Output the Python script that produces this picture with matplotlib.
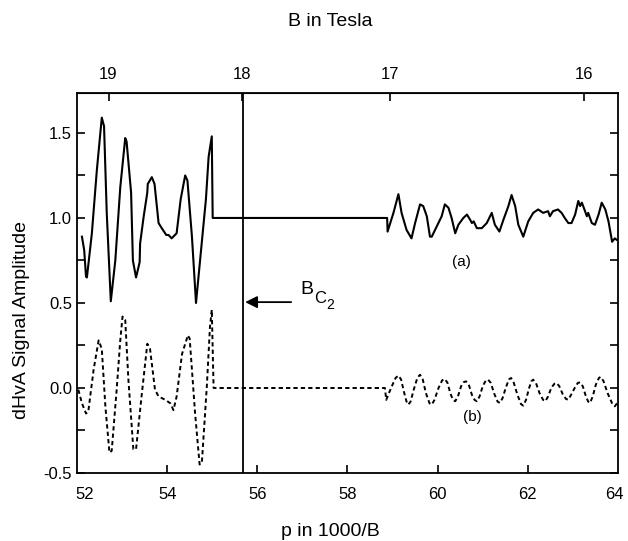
import matplotlib.pyplot as plt
import matplotlib.transforms as mtransforms
import numpy as np

plt.rcParams['font.family'] = ['Liberation Sans', 'DejaVu Sans']

# curve (a): measured signal, offset by 1.0
xa = [52.11, 52.16, 52.20, 52.22, 52.33, 52.44, 52.55, 52.60, 52.66, 52.75,
      52.85, 52.96, 53.07, 53.10, 53.20, 53.24, 53.31, 53.39, 53.40, 53.48,
      53.56, 53.57, 53.66, 53.72, 53.81, 53.88, 53.98, 54.03, 54.10, 54.21,
      54.30, 54.40, 54.45, 54.55, 54.64, 54.73, 54.86, 54.92, 54.99, 55.01,
      58.88, 58.89, 59.02, 59.13, 59.20, 59.31, 59.42, 59.50, 59.61, 59.68,
      59.76, 59.83, 59.87, 59.98, 60.09, 60.16, 60.24, 60.31, 60.39, 60.46,
      60.57, 60.65, 60.72, 60.76, 60.80, 60.87, 60.98, 61.09, 61.20, 61.27,
      61.37, 61.46, 61.57, 61.64, 61.72, 61.79, 61.90, 62.01, 62.12, 62.23,
      62.34, 62.45, 62.49, 62.56, 62.67, 62.75, 62.82, 62.90, 62.97, 63.05,
      63.12, 63.16, 63.20, 63.27, 63.31, 63.34, 63.42, 63.49, 63.57, 63.64,
      63.72, 63.79, 63.87, 63.93, 63.98]
ya = [0.89, 0.81, 0.655, 0.65, 0.91, 1.28, 1.59, 1.54, 1.03, 0.51,
      0.75, 1.18, 1.47, 1.45, 1.15, 0.75, 0.65, 0.74, 0.85, 1.01,
      1.15, 1.20, 1.24, 1.20, 0.97, 0.94, 0.90, 0.90, 0.88, 0.91,
      1.11, 1.25, 1.22, 0.89, 0.50, 0.75, 1.11, 1.36, 1.48, 1.00,
      1.00, 0.92, 1.03, 1.14, 1.03, 0.93, 0.88, 0.97, 1.08, 1.07,
      1.01, 0.89, 0.89, 0.95, 1.01, 1.08, 1.06, 1.00, 0.91, 0.96,
      1.00, 1.02, 0.99, 0.97, 0.98, 0.94, 0.94, 0.97, 1.03, 0.96,
      0.92, 0.99, 1.07, 1.135, 1.07, 0.96, 0.89, 0.98, 1.03, 1.05,
      1.03, 1.04, 1.01, 1.04, 1.05, 1.03, 1.00, 0.97, 0.97, 1.02,
      1.10, 1.07, 1.09, 1.04, 1.01, 1.03, 0.97, 0.96, 1.02, 1.09,
      1.05, 0.98, 0.86, 0.88, 0.87]

# curve (b): fitted signal
xb = [52.03, 52.11, 52.20, 52.25, 52.37, 52.48, 52.55, 52.63, 52.72, 52.77,
      52.88, 52.96, 53.01, 53.07, 53.14, 53.25, 53.31, 53.44, 53.56, 53.62,
      53.73, 53.81, 53.96, 54.07, 54.14, 54.21, 54.33, 54.46, 54.50, 54.62,
      54.72, 54.77, 54.88, 54.95, 54.99, 55.03,
      58.83, 58.86, 58.92, 59.00, 59.07, 59.13, 59.19, 59.25, 59.31, 59.35,
      59.40, 59.47, 59.55, 59.61, 59.67, 59.74, 59.82, 59.87, 59.93, 60.02,
      60.10, 60.16, 60.22, 60.28, 60.34, 60.39, 60.45, 60.52, 60.58, 60.63,
      60.69, 60.76, 60.82, 60.87, 60.93, 61.00, 61.07, 61.12, 61.18, 61.25,
      61.33, 61.38, 61.44, 61.51, 61.58, 61.63, 61.69, 61.77, 61.85, 61.90,
      61.96, 62.03, 62.08, 62.12, 62.18, 62.26, 62.34, 62.39, 62.45, 62.52,
      62.59, 62.64, 62.70, 62.78, 62.85, 62.90, 62.96, 63.04, 63.11, 63.16,
      63.22, 63.29, 63.34, 63.38, 63.44, 63.51, 63.58, 63.62, 63.68, 63.77,
      63.87, 63.93, 63.98]
yb = [-0.01, -0.09, -0.15, -0.14, 0.11, 0.28, 0.23, -0.11, -0.38, -0.37,
      -0.01, 0.28, 0.42, 0.40, 0.05, -0.36, -0.36, -0.03, 0.26, 0.23,
      -0.01, -0.05, -0.07, -0.09, -0.13, -0.05, 0.20, 0.31, 0.29, -0.15,
      -0.45, -0.44, 0.01, 0.36, 0.46, 0.00,
      0.00, -0.07, -0.03, 0.02, 0.06, 0.073, 0.05, -0.02, -0.08, -0.098,
      -0.08, -0.01, 0.06, 0.078, 0.05, -0.03, -0.09, -0.098, -0.07, 0.00,
      0.045, 0.053, 0.03, -0.03, -0.07, -0.078, -0.05, 0.01, 0.035, 0.039,
      0.02, -0.04, -0.07, -0.078, -0.05, 0.01, 0.045, 0.049, 0.03, -0.03,
      -0.08, -0.088, -0.06, 0.00, 0.05, 0.059, 0.03, -0.04, -0.095, -0.104,
      -0.07, 0.00, 0.04, 0.049, 0.03, -0.03, -0.07, -0.078, -0.05, 0.00,
      0.025, 0.029, 0.01, -0.04, -0.065, -0.069, -0.04, 0.00, 0.03, 0.033,
      0.01, -0.05, -0.08, -0.088, -0.05, 0.02, 0.06, 0.065, 0.04, -0.03,
      -0.09, -0.108, -0.09]

bc2 = 55.68
top_pos = [52.7, 55.65, 58.95, 63.25]
top_labels = ['19', '18', '17', '16']

fig = plt.figure(figsize=(6.28, 5.41), dpi=100)
ax = fig.add_axes([0.1226, 0.1257, 0.8614, 0.7024])

ax.plot(xa, ya, color='black', lw=1.5)
ax.plot(xb, yb, color='black', lw=1.4, linestyle=(0, (2.2, 1.6)))
ax.axvline(bc2, color='black', lw=1.3)

ax.annotate('', xy=(bc2 + 0.05, 0.505), xytext=(56.75, 0.505),
            arrowprops=dict(arrowstyle='-|>', color='black', lw=1.3,
                            mutation_scale=18, shrinkA=0, shrinkB=0))
# B with subscript C and sub-subscript 2
ax.text(56.95, 0.53, 'B', fontsize=14, va='bottom', ha='left')
t_c = mtransforms.offset_copy(ax.transData, fig=fig, x=10, y=-6, units='points')
ax.text(56.95, 0.53, 'C', fontsize=12, va='bottom', ha='left', transform=t_c)
t_2 = mtransforms.offset_copy(ax.transData, fig=fig, x=18.5, y=-10, units='points')
ax.text(56.95, 0.53, '2', fontsize=10, va='bottom', ha='left', transform=t_2)

ax.text(60.53, 0.74, '(a)', fontsize=11, ha='center', va='center')
ax.text(60.76, -0.17, '(b)', fontsize=11, ha='center', va='center')

ax.set_xlim(52, 64)
ax.set_ylim(-0.5, 1.735)
ax.set_xticks(np.arange(54, 64, 2))
ax.set_yticks([-0.5, 0.0, 0.5, 1.0, 1.5])
ax.set_yticklabels(['-0.5', '0.0', '0.5', '1.0', '1.5'])
ax.set_yticks(np.arange(-0.25, 1.75, 0.5), minor=True)
ax.tick_params(axis='both', which='both', direction='in', labelsize=12,
               right=True, width=1.2)
ax.tick_params(which='major', length=6)
ax.tick_params(which='minor', length=6)
ax.tick_params(axis='x', pad=10)
for s in ax.spines.values():
    s.set_linewidth(1.3)

# edge labels 52 and 64, placed as in the original figure
t_lab = mtransforms.offset_copy(ax.transData, fig=fig, y=-10, units='points')
ax.text(52.16, -0.5, '52', fontsize=12, ha='center', va='top', transform=t_lab)
ax.text(63.93, -0.5, '64', fontsize=12, ha='center', va='top', transform=t_lab)

top = ax.secondary_xaxis('top')
top.set_xticks(top_pos)
top.set_xticklabels(top_labels)
top.tick_params(direction='in', length=6, width=1.2, labelsize=12, pad=8)

fig.text(330 / 628, 1 - 22 / 541, 'B in Tesla', fontsize=14, ha='center', va='center')
fig.text(330 / 628, 1 - 532 / 541, 'p in 1000/B', fontsize=14, ha='center', va='center')
fig.text(22 / 628, 1 - 320 / 541, 'dHvA Signal Amplitude', fontsize=14,
         ha='center', va='center', rotation=90)

fig.savefig('out.png', dpi=100)
